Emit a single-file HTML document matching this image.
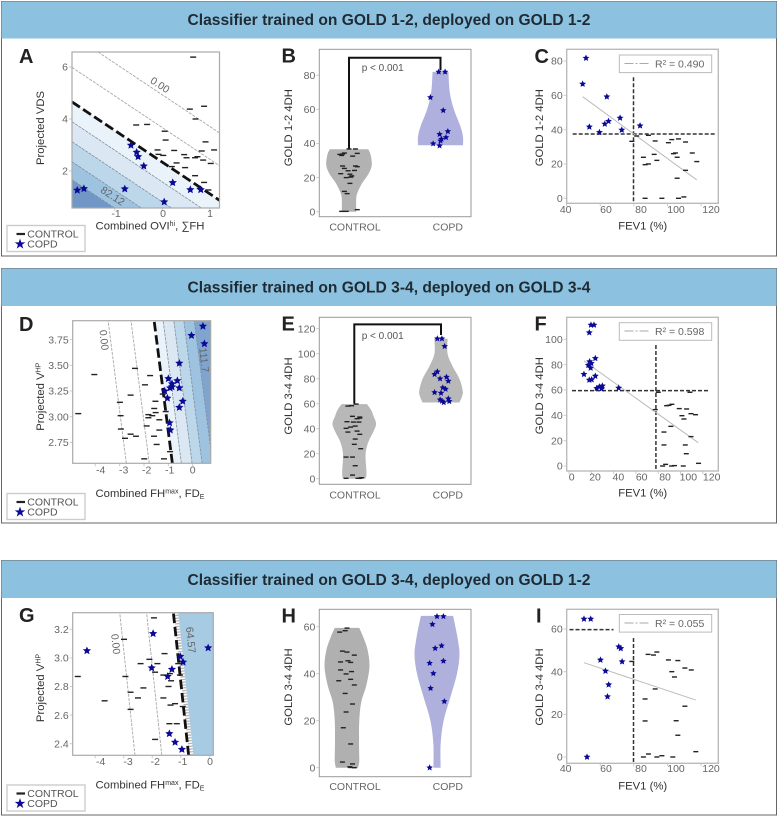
<!DOCTYPE html>
<html lang="en">
<head>
<meta charset="utf-8">
<title>Classifier panels</title>
<style>
html,body{margin:0;padding:0;background:#fff;overflow:hidden;width:779px;height:817px;}
svg{display:block;font-family:"Liberation Sans",sans-serif;}
.head{font-size:15.6px;font-weight:bold;fill:#1f2a33;text-anchor:middle;}
.letter{font-size:20px;font-weight:bold;fill:#222;}
.axt{font-size:11.3px;fill:#333;}
.tick{font-size:10.5px;fill:#666;}
.leg{font-size:10.5px;fill:#555;}
.ptxt{font-size:10px;fill:#555;}
.rtxt{font-size:10.5px;fill:#666;}
.clab{font-size:10.5px;fill:#666;text-anchor:middle;}
</style>
</head>
<body>
<svg id="figure" xmlns="http://www.w3.org/2000/svg" width="779" height="817" viewBox="0 0 779 817">
<rect x="0" y="0" width="779" height="817" fill="#fff"/>

<g>
<rect x="1.5" y="1.5" width="775" height="254.5" fill="none" stroke="#666" stroke-width="1"/>
<rect x="1.5" y="1.5" width="775" height="37" fill="#8cc2e0"/>
<text class="head" x="389" y="25">Classifier trained on GOLD 1-2, deployed on GOLD 1-2</text>
</g>
<g>
<rect x="1.5" y="268.5" width="775" height="254.5" fill="none" stroke="#666" stroke-width="1"/>
<rect x="1.5" y="268.5" width="775" height="37.5" fill="#8cc2e0"/>
<text class="head" x="389" y="292.7">Classifier trained on GOLD 3-4, deployed on GOLD 3-4</text>
</g>
<g>
<rect x="1.5" y="560.5" width="775" height="254.5" fill="none" stroke="#666" stroke-width="1"/>
<rect x="1.5" y="560.5" width="775" height="37.5" fill="#8cc2e0"/>
<text class="head" x="389" y="585">Classifier trained on GOLD 3-4, deployed on GOLD 1-2</text>
</g>

<g id="plot-a"></g>
<rect x="72" y="52" width="147.5" height="156" fill="none" stroke="#aaa" stroke-width="1.2"/>
<g id="plot-b"></g>
<rect x="319.3" y="49.3" width="151.7" height="167.4" fill="none" stroke="#999" stroke-width="1"/>
<g id="plot-c"></g>
<rect x="566.7" y="49.3" width="151.6" height="154" fill="none" stroke="#bbb" stroke-width="1.4"/>

<g id="plot-d"></g>
<rect x="72.7" y="320.7" width="138" height="142.6" fill="none" stroke="#aaa" stroke-width="1.2"/>
<g id="plot-e"></g>
<rect x="319.3" y="317.3" width="151.7" height="167" fill="none" stroke="#999" stroke-width="1"/>
<g id="plot-f"></g>
<rect x="566.7" y="317.3" width="151.6" height="153.7" fill="none" stroke="#bbb" stroke-width="1.4"/>

<g id="plot-g"></g>
<rect x="72.7" y="612.7" width="140.6" height="142.6" fill="none" stroke="#aaa" stroke-width="1.2"/>
<g id="plot-h"></g>
<rect x="319.3" y="609.3" width="151.7" height="167.4" fill="none" stroke="#999" stroke-width="1"/>
<g id="plot-i"></g>
<rect x="566.7" y="609.3" width="151.6" height="154" fill="none" stroke="#bbb" stroke-width="1.4"/>

<text class="letter" x="19" y="63">A</text>
<text class="letter" x="281.5" y="62.7">B</text>
<text class="letter" x="534.5" y="63">C</text>
<text class="letter" x="19" y="331">D</text>
<text class="letter" x="281.5" y="330.7">E</text>
<text class="letter" x="534.5" y="330.7">F</text>
<text class="letter" x="19" y="622">G</text>
<text class="letter" x="281.5" y="622.7">H</text>
<text class="letter" x="536" y="622.7">I</text>

<text class="axt" x="150" y="229.3" text-anchor="middle">Combined OVI<tspan font-size="7" dy="-3.5">hi</tspan><tspan dy="3.5">, ∑FH</tspan></text>
<text class="axt" transform="translate(44,128) rotate(-90)" text-anchor="middle">Projected VDS</text>
<text class="axt" transform="translate(292,127.7) rotate(-90)" text-anchor="middle">GOLD 1-2 4DH</text>
<text class="axt" transform="translate(543,127.7) rotate(-90)" text-anchor="middle">GOLD 1-2 4DH</text>
<text class="axt" x="642.7" y="229.3" text-anchor="middle">FEV1 (%)</text>

<text class="axt" x="150" y="497" text-anchor="middle">Combined FH<tspan font-size="7" dy="-3.5">max</tspan><tspan dy="3.5">, FD</tspan><tspan font-size="7" dy="2">E</tspan></text>
<text class="axt" transform="translate(44,396.7) rotate(-90)" text-anchor="middle">Projected V<tspan font-size="7" dy="-3.5">HP</tspan></text>
<text class="axt" transform="translate(292,396) rotate(-90)" text-anchor="middle">GOLD 3-4 4DH</text>
<text class="axt" transform="translate(543,395.7) rotate(-90)" text-anchor="middle">GOLD 3-4 4DH</text>
<text class="axt" x="642.7" y="496.7" text-anchor="middle">FEV1 (%)</text>

<text class="axt" x="150" y="788.7" text-anchor="middle">Combined FH<tspan font-size="7" dy="-3.5">max</tspan><tspan dy="3.5">, FD</tspan><tspan font-size="7" dy="2">E</tspan></text>
<text class="axt" transform="translate(44,688) rotate(-90)" text-anchor="middle">Projected V<tspan font-size="7" dy="-3.5">HP</tspan></text>
<text class="axt" transform="translate(292,687) rotate(-90)" text-anchor="middle">GOLD 3-4 4DH</text>
<text class="axt" transform="translate(543,687) rotate(-90)" text-anchor="middle">GOLD 3-4 4DH</text>
<text class="axt" x="642.7" y="789.3" text-anchor="middle">FEV1 (%)</text>

<text class="ptxt" x="361.7" y="71">p &lt; 0.001</text>
<text class="ptxt" x="361.7" y="339">p &lt; 0.001</text>

<g>
<rect x="7" y="225.5" width="78" height="26" fill="#fff" stroke="#ccc" stroke-width="1.4"/>
<rect x="16.5" y="232.9" width="8.5" height="2.2" fill="#222"/>
<polygon points="20,238.6 21.3,242.4 25.3,242.4 22.1,244.8 23.3,248.6 20,246.3 16.7,248.6 17.9,244.8 14.7,242.4 18.7,242.4" fill="#0a0a96"/>
<text class="leg" x="27.3" y="237.7">CONTROL</text>
<text class="leg" x="27.3" y="247.5">COPD</text>
</g>
<g>
<rect x="7" y="493.5" width="78" height="26" fill="#fff" stroke="#ccc" stroke-width="1.4"/>
<rect x="16.5" y="500.9" width="8.5" height="2.2" fill="#222"/>
<polygon points="20,506.6 21.3,510.4 25.3,510.4 22.1,512.8 23.3,516.6 20,514.3 16.7,516.6 17.9,512.8 14.7,510.4 18.7,510.4" fill="#0a0a96"/>
<text class="leg" x="27.3" y="505.7">CONTROL</text>
<text class="leg" x="27.3" y="515.5">COPD</text>
</g>
<g>
<rect x="7" y="785" width="78" height="26" fill="#fff" stroke="#ccc" stroke-width="1.4"/>
<rect x="16.5" y="792.4" width="8.5" height="2.2" fill="#222"/>
<polygon points="20,798.1 21.3,801.9 25.3,801.9 22.1,804.3 23.3,808.1 20,805.8 16.7,808.1 17.9,804.3 14.7,801.9 18.7,801.9" fill="#0a0a96"/>
<text class="leg" x="27.3" y="797.2">CONTROL</text>
<text class="leg" x="27.3" y="807">COPD</text>
</g>

<g>
<rect x="619.3" y="55" width="92.4" height="17.6" fill="#fff" stroke="#bbb" stroke-width="1"/>
<line x1="624.5" y1="63.5" x2="648.5" y2="63.5" stroke="#aaa" stroke-width="1" stroke-dasharray="9 2 2 2"/>
<text class="rtxt" x="655" y="67.5">R² = 0.490</text>
</g>
<g>
<rect x="619.3" y="322.7" width="92.4" height="17.6" fill="#fff" stroke="#bbb" stroke-width="1"/>
<line x1="624.5" y1="331" x2="648.5" y2="331" stroke="#aaa" stroke-width="1" stroke-dasharray="9 2 2 2"/>
<text class="rtxt" x="655" y="335">R² = 0.598</text>
</g>
<g>
<rect x="619.3" y="614.5" width="92.4" height="17.6" fill="#fff" stroke="#bbb" stroke-width="1"/>
<line x1="624.5" y1="623" x2="648.5" y2="623" stroke="#aaa" stroke-width="1" stroke-dasharray="9 2 2 2"/>
<text class="rtxt" x="655" y="627">R² = 0.055</text>
</g>
</svg>

<script>
// ---------- Panel A data ----------
const aControlX = [0.65,0.58,0.88,0.70,-0.55,-0.32,0.05,0.07,0.91,-0.10,0.25,0.83,1.09,-0.08,0.02,0.46,0.51,0.69,0.74,0.86,1.02,0.30,0.20,0.48,0.69,0.88,0.79,0.97];
const aControlY = [6.38,4.38,4.49,4.00,3.77,3.79,3.53,3.19,3.12,2.81,2.79,2.77,2.81,2.64,2.60,2.63,2.51,2.51,2.55,2.42,2.29,2.31,2.17,2.13,1.82,1.56,1.33,1.27];
const aCopdX = [-1.79,-1.65,-0.79,-0.66,-0.54,-0.51,-0.39,0.22,0.04,0.59,0.81];
const aCopdY = [1.26,1.32,1.31,2.99,2.72,2.55,2.19,1.55,0.81,1.28,1.28];
const aOuterLevels = [4.93,3.67];
const aBoundaryLevel = [2.34];
const aBandLevels = [2.34,1.58,0.81,0.04,-0.65];
const aXTicks = [-1,0,1];
const aXTickLabels = ['-1','0','1'];
const aYTicks = [2,4,6];
const aYTickLabels = ['2','4','6'];

// ---------- Panel B data ----------
const bControlJitter = [0,0.07,-0.10,-0.07,-0.05,-0.08,0.09,0.04,-0.07,-0.05,0.07,0.09,-0.01,0.06,-0.09,0.01,0.03,-0.03,0.02,0.01,-0.05,-0.02,-0.08,-0.03,0.09];
const bControlValues = [36.8,36.8,33.6,33.8,34.4,33.0,34.2,32.6,26.8,25.4,26.8,26.4,24.0,24.2,22.3,22.0,21.0,20.0,20.3,16.6,11.9,10.6,0.2,0.2,1.2];
const bCopdJitter = [-0.02,0.05,-0.11,0.03,-0.01,0.08,0.06,0.01,0,-0.08,-0.01];
const bCopdValues = [82,82,67,59.4,45.4,47.1,43.6,42.6,41.6,39.9,38.7];
const bControlProfileValues = [36.6,33,27,22,17,12,8,0];
const bControlProfileDensity = [0.85,0.96,1,0.85,0.59,0.40,0.32,0.32];
const bCopdProfileValues = [82,70,60,50,44,39];
const bCopdProfileDensity = [0.35,0.41,0.59,0.88,0.99,0.99];
const bBracketLevels = [36.6,90.3,83];
const bYTicks = [0,20,40,60,80];
const bYTickLabels = ['0','20','40','60','80'];

// ---------- Panel C data ----------
const cControlFev = [81.7,88.7,78.8,100.6,102.6,106.6,110.8,85.7,92.1,92.7,103.6,104.8,105.8,114.8,117.5,86.7,88.7,93.7,110.8,105.8,86.7,96.7,106.6,109.8];
const cControlDh = [36.3,36.7,33.2,32.4,34.2,34.6,32.8,23.9,25.6,33.4,26,26.4,23.9,26.4,21.4,19.6,20,22.1,16.3,11.7,0,0,0,0.8];
const cCopdFev = [51.5,49.5,63.9,71.8,83.7,53.5,64.9,62.7,59.5,72.8];
const cCopdDh = [81.7,66.6,59.2,46.8,42.3,41.6,44.9,43.3,38.4,39.8];
const cRegressionFev = [49.5,117.5];
const cRegressionDh = [59.2,10.7];
const cThresholdDh = [37.5];
const cThresholdFev = [79.8];
const cXTicks = [40,60,80,100,120];
const cXTickLabels = ['40','60','80','100','120'];
const cYTicks = [0,20,40,60,80];
const cYTickLabels = ['0','20','40','60','80'];

// ---------- Panel D data ----------
const dControlX = [-4.70,-4.04,-2.37,-1.75,-1.96,-2.55,-2.99,-2.96,-2.95,-2.78,-2.55,-2.33,-1.53,-1.58,-1.52,-1.82,-1.66,-1.82,-1.89,-1.37,-1.11,-1.59,-1.37,-1.48,-1.99,-1.18,-0.93,-1.23];
const dControlY = [3.03,3.41,3.47,3.40,3.31,3.21,3.14,3.01,2.88,2.79,2.83,2.81,3.15,3.08,3.04,3.02,3.01,2.99,2.91,2.97,3.05,2.81,2.87,2.73,2.59,2.59,2.66,3.22];
const dCopdX = [0.42,-0.05,0.48,-0.55,-1.00,-0.63,-0.85,-0.93,-0.85,-0.55,-1.15,-1.04,-0.41,-0.55,-0.95,-0.92];
const dCopdY = [3.88,3.79,3.71,3.52,3.37,3.35,3.32,3.28,3.29,3.28,3.25,3.18,3.15,3.09,2.94,2.87];
const dOuterLevels = [-2.97,-2.03];
const dBoundaryLevel = [-1.08];
const dBandLevels = [-1.08,-0.71,-0.27,0.14,0.57];
const dXTicks = [-4,-3,-2,-1,0];
const dXTickLabels = ['-4','-3','-2','-1','0'];
const dYTicks = [2.75,3,3.25,3.5,3.75];
const dYTickLabels = ['2.75','3.00','3.25','3.50','3.75'];

// ---------- Panel E data ----------
const eControlJitter = [0.02,-0.07,-0.03,-0.02,0.06,0.06,0.03,-0.08,-0.01,0.05,0.01,-0.04,-0.09,-0.07,0.03,0.06,0.01,0,0.07,-0.09,-0.02,0.01,-0.02,-0.09,0.04,0.08,0.06];
const eControlValues = [59.7,58.1,58.4,49.9,49.3,48.5,48,45.6,45.3,45.3,42.1,41.3,40.3,37.3,38.1,35.5,31.7,27.5,24,17.3,17.3,10.4,2.9,0.3,0.3,0.8,0.3];
const eCopdJitter = [-0.04,0.01,0.04,-0.04,-0.07,0.06,-0.01,0.08,0.02,0.05,-0.07,0,-0.01,0.08,0.01,0.03,0.09];
const eCopdValues = [112,112,105.9,85.6,83.5,81.3,80,78.1,72.8,71.7,69,68.5,63.2,64,62.1,61,61.9];
const eControlProfileValues = [59.7,55,50,44,38,30,22,15,8,2,0];
const eControlProfileDensity = [0.56,0.74,0.85,0.96,0.85,0.63,0.51,0.50,0.53,0.53,0.47];
const eCopdProfileValues = [112,100,90,80,70,65,61];
const eCopdProfileDensity = [0.29,0.29,0.51,0.81,0.96,0.91,0.81];
const eBracketLevels = [60,123.5,115];
const eYTicks = [0,20,40,60,80,100,120];
const eYTickLabels = ['0','20','40','60','80','100','120'];

// ---------- Panel F data ----------
const fControlFev = [80,108.4,87.5,89.6,92.2,98.8,105.4,77.3,101.2,103,109.3,113.4,91.3,85.1,109.3,85.1,104.2,105.1,116.1,86.6,83.9,91.9,94.6,102.4];
const fControlDh = [58.2,58.2,47.6,47.9,48.7,45.3,45,44.5,39.7,37.1,41.3,40.5,31.3,26.8,23.2,16.6,16.6,9.7,2.1,1.3,0,0,0.3,0];
const fCopdFev = [19.7,22.4,18.2,23.6,18.5,20,17.3,19.4,13.4,18.2,20.3,23.6,24.8,27.2,29.9,29.3,44.5];
const fCopdDh = [111.3,111.3,105.3,85,82.4,81,79.5,77.4,72.4,67.9,68.2,71,61.3,62.6,63.2,61,61.6];
const fRegressionFev = [13.4,115.8];
const fRegressionDh = [82.9,18.4];
const fThresholdDh = [59.5];
const fThresholdFev = [77.9];
const fXTicks = [0,20,40,60,80,100,120];
const fXTickLabels = ['0','20','40','60','80','100','120'];
const fYTicks = [0,20,40,60,80,100];
const fYTickLabels = ['0','20','40','60','80','100'];

// ---------- Panel G data ----------
const gControlX = [-1.94,-2.99,-1.57,-2.10,-1.82,-2.41,-1.90,-4.61,-2.94,-1.61,-1.38,-1.03,-1.34,-2.31,-1.43,-2.76,-2.50,-1.61,-3.67,-1.36,-1.20,-0.93,-2.76,-1.40,-1.14,-1.90,-1.09];
const gControlY = [3.28,3.13,3.03,2.99,2.96,2.96,2.90,2.87,2.87,2.88,2.89,2.88,2.84,2.79,2.80,2.76,2.72,2.72,2.70,2.67,2.68,2.66,2.64,2.54,2.54,2.43,2.96];
const gCopdX = [-4.29,-1.97,-0.04,-1.02,-0.92,-2.02,-1.31,-1.46,-1.40,-1.20,-0.96];
const gCopdY = [3.05,3.17,3.07,3.01,2.97,2.93,2.92,2.87,2.47,2.41,2.36];
const gOuterLevels = [-2.97,-2.03];
const gBoundaryLevel = [-1.09];
const gBandLevels = [-0.92];
const gHatchLevel = [-1.0];
const gXTicks = [-4,-3,-2,-1,0];
const gXTickLabels = ['-4','-3','-2','-1','0'];
const gYTicks = [2.4,2.6,2.8,3.0,3.2];
const gYTickLabels = ['2.4','2.6','2.8','3.0','3.2'];

// ---------- Panel H data ----------
const hControlJitter = [0,-0.02,-0.08,-0.05,0,0.08,0.01,0.04,-0.07,-0.07,0.05,-0.01,0.04,-0.09,0.08,-0.02,0.06,-0.01,-0.04,0.04,-0.05,0.06,0.03,0.04,0.08];
const hControlValues = [59.4,58.3,57.7,49.6,49.2,47.9,45.5,44.8,45,41.6,40.9,39.9,37.6,37,35.2,31.6,27.1,23.7,17,10.1,2.4,1.6,0.4,0.1,0];
const hCopdJitter = [0,0.07,-0.05,0.05,-0.02,0.07,-0.08,-0.04,-0.07,0.08,-0.08];
const hCopdValues = [64.4,64.4,61,51.9,50.8,45.4,44.5,40.1,33.8,28.2,0];
const hControlProfileValues = [59.5,55,50,43,35,28,20,10,3,0];
const hControlProfileDensity = [0.54,0.74,0.91,0.99,0.85,0.63,0.54,0.53,0.54,0.49];
const hCopdProfileValues = [64.6,55,48,40,30,20,10,0];
const hCopdProfileDensity = [0.71,0.91,0.99,0.88,0.59,0.29,0.16,0.16];
const hYTicks = [0,20,40,60];
const hYTickLabels = ['0','20','40','60'];

// ---------- Panel I data ----------
const iControlFev = [88.5,91.7,93.7,100.6,106.2,78.8,102.6,104.2,110.4,114.2,92.7,86.7,110.4,86.7,105.2,106.2,116.9,88.7,85.7,93.7,96.7,103.2];
const iControlDh = [48.1,47.8,49.2,45.5,45.2,44.8,40,37.5,41.7,40.8,31.9,27.2,23.8,16.9,17,10.2,2.5,1.4,0,0,0.6,0];
const iCopdFev = [50.3,54.3,71,72.2,73,60.1,63.1,65,64.3,52.1];
const iCopdDh = [64.7,64.7,51.7,50.9,44.7,45.5,40.3,33.9,28.3,0];
const iRegressionFev = [50.3,116.9];
const iRegressionDh = [44.2,26.7];
const iThresholdDh = [59.7];
const iThresholdFev = [79.8];
const iXTicks = [40,60,80,100,120];
const iXTickLabels = ['40','60','80','100','120'];
const iYTicks = [0,20,40,60];
const iYTickLabels = ['0','20','40','60'];

const categoryLabels = ['CONTROL','COPD'];

// ---------- Helpers ----------
const NS = 'http://www.w3.org/2000/svg';
function mk(tag, parent, props) {
  const e = document.createElementNS(NS, tag);
  for (const k in props) e.setAttribute(k, props[k]);
  parent.appendChild(e);
  return e;
}
function linear(d0, d1, r0, r1) {
  return v => r0 + (v - d0) * (r1 - r0) / (d1 - d0);
}
function starPoints(cx, cy, r) {
  const pts = [];
  for (let i = 0; i < 10; i++) {
    const rad = i % 2 ? r * 0.47 : r;
    const a = -Math.PI / 2 + i * Math.PI / 5;
    pts.push((cx + rad * Math.cos(a)).toFixed(2) + ',' + (cy + rad * Math.sin(a)).toFixed(2));
  }
  return pts.join(' ');
}
function drawStar(g, cx, cy, r) {
  const s = mk('polygon', g, {points: starPoints(cx, cy, r), fill: '#0a0a96'});
  
  
}
function drawDash(g, cx, cy, w) {
  const d = mk('rect', g, {x: cx - w / 2, y: cy - 0.7, width: w, height: 1.4, fill: '#222'});
  
  
}
function drawXTick(g, px, labelPx, label, frameBottom, baseline) {
  const t = mk('line', g, {x1: px, x2: px, y1: frameBottom, y2: frameBottom + 3, stroke: '#ccc', 'stroke-width': 1});
  
  
  const l = mk('text', g, {x: labelPx, y: baseline, 'text-anchor': 'middle', class: 'tick'});
  l.textContent = label;
  
  
}
function drawYTick(g, py, label, frameLeft) {
  const t = mk('line', g, {x1: frameLeft - 3, x2: frameLeft, y1: py, y2: py, stroke: '#ccc', 'stroke-width': 1});
  
  
  const l = mk('text', g, {x: frameLeft - 4, y: py + 3.7, 'text-anchor': 'end', class: 'tick'});
  l.textContent = label;
  
  
}
function drawContourLabel(g, text, px, py, rot, halo) {
  const l = mk('text', g, {class: 'clab', transform: 'translate(' + px + ',' + py + ') rotate(' + rot + ')', y: 3.5});
  if (halo) {
    l.setAttribute('stroke', '#fff');
    l.setAttribute('stroke-width', '3');
    l.setAttribute('paint-order', 'stroke');
  }
  l.textContent = text;
  
  
}
// Clip a pixel-space polygon to the plot rectangle so nothing extends outside the panel.
function clipToRect(pts, r) {
  const edges = [
    [p => p[0] >= r.x0, (a, b) => { const t = (r.x0 - a[0]) / (b[0] - a[0]); return [r.x0, a[1] + t * (b[1] - a[1])]; }],
    [p => p[0] <= r.x1, (a, b) => { const t = (r.x1 - a[0]) / (b[0] - a[0]); return [r.x1, a[1] + t * (b[1] - a[1])]; }],
    [p => p[1] >= r.y0, (a, b) => { const t = (r.y0 - a[1]) / (b[1] - a[1]); return [a[0] + t * (b[0] - a[0]), r.y0]; }],
    [p => p[1] <= r.y1, (a, b) => { const t = (r.y1 - a[1]) / (b[1] - a[1]); return [a[0] + t * (b[0] - a[0]), r.y1]; }]
  ];
  let out = pts;
  edges.forEach(edge => {
    const input = out;
    out = [];
    input.forEach((cur, i) => {
      const prev = input[(i + input.length - 1) % input.length];
      if (edge[0](cur)) {
        if (!edge[0](prev)) out.push(edge[1](prev, cur));
        out.push(cur);
      } else if (edge[0](prev)) {
        out.push(edge[1](prev, cur));
      }
    });
  });
  return out;
}
function clipSegment(a, b, r) {
  let t0 = 0, t1 = 1;
  const dx = b[0] - a[0], dy = b[1] - a[1];
  const checks = [[-dx, a[0] - r.x0], [dx, r.x1 - a[0]], [-dy, a[1] - r.y0], [dy, r.y1 - a[1]]];
  for (const c of checks) {
    if (c[0] === 0) { if (c[1] < 0) return null; continue; }
    const t = c[1] / c[0];
    if (c[0] < 0) t0 = Math.max(t0, t); else t1 = Math.min(t1, t);
  }
  if (t0 > t1) return null;
  return [[a[0] + t0 * dx, a[1] + t0 * dy], [a[0] + t1 * dx, a[1] + t1 * dy]];
}

// Decision plot. "lineAt(level, t)" maps a contour level and a position along the line to data coordinates.
function drawDecision(cfg) {
  const root = document.getElementById(cfg.id);
  const inner = mk('g', root, {});
  
  
  const toPx = p => [cfg.x(p[0]), cfg.y(p[1])];
  const ends = cfg.tRange;
  cfg.bands.forEach((lev, i) => {
    const next = i + 1 < cfg.bands.length ? cfg.bands[i + 1] : cfg.farLevel;
    const pts = [cfg.lineAt(lev, ends[0]), cfg.lineAt(lev, ends[1]), cfg.lineAt(next, ends[1]), cfg.lineAt(next, ends[0])].map(toPx);
    const clipped = clipToRect(pts, cfg.rect);
    const b = mk('polygon', inner, {points: clipped.map(p => p[0].toFixed(2) + ',' + p[1].toFixed(2)).join(' '), fill: cfg.bandColors[i]});
    
    
  });
  const drawLine = (lev, stroke, width, dash) => {
    const seg = clipSegment(toPx(cfg.lineAt(lev, ends[0])), toPx(cfg.lineAt(lev, ends[1])), cfg.rect);
    if (!seg) return;
    const l = mk('line', inner, {x1: seg[0][0], y1: seg[0][1], x2: seg[1][0], y2: seg[1][1], stroke: stroke, 'stroke-width': width, 'stroke-dasharray': dash});
    
    
  };
  cfg.outer.forEach(lev => drawLine(lev, '#a8a8a8', 0.9, '3 1.2'));
  cfg.bands.forEach((lev, i) => { if (i > 0) drawLine(lev, '#7f8f9c', 0.8, '3 1'); });
  if (cfg.hatch) cfg.hatch.forEach(lev => drawLine(lev, '#b5b5b5', 4.5, '1.3 1.5'));
  cfg.labels.forEach(c => drawContourLabel(inner, c[0], c[1], c[2], c[3], c[4]));
  cfg.boundary.forEach(lev => drawLine(lev, '#111', 2.8, '9.5 3.8'));
  cfg.controlX.forEach((v, i) => drawDash(root, cfg.x(v), cfg.y(cfg.controlY[i]), 6));
  cfg.copdX.forEach((v, i) => drawStar(root, cfg.x(v), cfg.y(cfg.copdY[i]), 4.3));
  cfg.xTicks.forEach((v, i) => drawXTick(root, cfg.x(v), cfg.xLabel(v), cfg.xTickLabels[i], cfg.frameBottom, cfg.xBase));
  cfg.yTicks.forEach((v, i) => drawYTick(root, cfg.y(v), cfg.yTickLabels[i], cfg.frameLeft));
}

// Smooth Catmull-Rom path through a list of pixel points.
function smoothPath(pts, start) {
  let d = start ? 'M' + pts[0][0].toFixed(2) + ' ' + pts[0][1].toFixed(2) : 'L' + pts[0][0].toFixed(2) + ' ' + pts[0][1].toFixed(2);
  for (let i = 0; i < pts.length - 1; i++) {
    const p0 = pts[Math.max(i - 1, 0)], p1 = pts[i], p2 = pts[i + 1], p3 = pts[Math.min(i + 2, pts.length - 1)];
    const c1 = [p1[0] + (p2[0] - p0[0]) / 6, p1[1] + (p2[1] - p0[1]) / 6];
    const c2 = [p2[0] - (p3[0] - p1[0]) / 6, p2[1] - (p3[1] - p1[1]) / 6];
    d += ' C' + c1[0].toFixed(2) + ' ' + c1[1].toFixed(2) + ' ' + c2[0].toFixed(2) + ' ' + c2[1].toFixed(2) + ' ' + p2[0].toFixed(2) + ' ' + p2[1].toFixed(2);
  }
  return d;
}
function drawViolinShape(g, center, values, density, y, scale, fill) {
  const left = values.map((v, i) => [center - density[i] * scale, y(v)]);
  const right = values.map((v, i) => [center + density[i] * scale, y(v)]).reverse();
  const p = mk('path', g, {d: smoothPath(left, true) + ' ' + smoothPath(right, false) + ' Z', fill: fill});
  
  
}
function drawViolin(cfg) {
  const root = document.getElementById(cfg.id);
  const jitterX = (cat, j) => cfg.centers[cat] + j * 91.7;
  drawViolinShape(root, cfg.centers[0], cfg.controlProfileValues, cfg.controlProfileDensity, cfg.y, 22.7, cfg.fills[0]);
  drawViolinShape(root, cfg.centers[1], cfg.copdProfileValues, cfg.copdProfileDensity, cfg.y, 22.7, cfg.fills[1]);
  if (cfg.bracket) {
    const b = mk('path', root, {
      d: 'M' + cfg.centers[0] + ' ' + cfg.y(cfg.bracket[0]) + ' V' + cfg.y(cfg.bracket[1]) + ' H' + cfg.centers[1] + ' V' + cfg.y(cfg.bracket[2]),
      fill: 'none', stroke: '#111', 'stroke-width': 2
    });
    
    
  }
  cfg.controlValues.forEach((v, i) => drawDash(root, jitterX(0, cfg.controlJitter[i]), cfg.y(v), 5));
  cfg.copdValues.forEach((v, i) => drawStar(root, jitterX(1, cfg.copdJitter[i]), cfg.y(v), 3.4));
  cfg.yTicks.forEach((v, i) => drawYTick(root, cfg.y(v), cfg.yTickLabels[i], 319.3));
  categoryLabels.forEach((label, i) => {
    const l = mk('text', root, {x: i === 0 ? 355 : 447.8, y: cfg.catBase, 'text-anchor': 'middle', class: 'tick'});
    l.textContent = label;
    
    
  });
}
function drawScatter(cfg) {
  const root = document.getElementById(cfg.id);
  cfg.thresholdFev.forEach(v => {
    const l = mk('line', root, {x1: cfg.x(v), x2: cfg.x(v), y1: cfg.vTop, y2: cfg.vBottom, stroke: '#333', 'stroke-width': 1.5, 'stroke-dasharray': '4 2'});
    
    
  });
  cfg.thresholdDh.forEach(v => {
    const l = mk('line', root, {x1: cfg.hLeft, x2: cfg.hRight, y1: cfg.y(v), y2: cfg.y(v), stroke: '#333', 'stroke-width': 1.5, 'stroke-dasharray': '4 2'});
    
    
  });
  const r = mk('line', root, {x1: cfg.x(cfg.regFev[0]), y1: cfg.y(cfg.regDh[0]), x2: cfg.x(cfg.regFev[1]), y2: cfg.y(cfg.regDh[1]), stroke: '#bbb', 'stroke-width': 1});
  
  
  cfg.controlFev.forEach((v, i) => drawDash(root, cfg.x(v), cfg.y(cfg.controlDh[i]), 5));
  cfg.copdFev.forEach((v, i) => drawStar(root, cfg.x(v), cfg.y(cfg.copdDh[i]), 3.6));
  cfg.xTicks.forEach((v, i) => drawXTick(root, cfg.x(v), cfg.xLabel(v), cfg.xTickLabels[i], cfg.frameBottom, cfg.xBase));
  cfg.yTicks.forEach((v, i) => drawYTick(root, cfg.y(v), cfg.yTickLabels[i], 566.7));
}

// ---------- Axis functions ----------
const axAx = linear(0, 1, 162.3, 209.8), axAy = linear(2, 4, 171, 119);
const axDx = linear(-4, 0, 95.3, 192.7), axDy = linear(3, 3.25, 416.7, 391);
const axGx = linear(-4, 0, 95.2, 209.3), axGy = linear(2.4, 3.2, 743.7, 629.3);
const axBy = linear(0, 80, 211.7, 75.3);
const axEy = linear(0, 120, 478.7, 328.7);
const axHy = linear(0, 60, 767.7, 626.7);
const axCx = linear(40, 120, 566.7, 701), axCy = linear(0, 80, 198.3, 61);
const axFx = linear(0, 120, 569, 702.9), axFy = linear(0, 100, 466, 339.3);
const axIx = linear(40, 120, 566.7, 701), axIy = linear(0, 60, 757, 629);
const labelCx = v => v <= 40 ? 565.7 : linear(60, 120, 606, 711)(v);
const labelFx = linear(0, 120, 571.7, 711.7);

// ---------- Draw ----------
drawDecision({
  id: 'plot-a', rect: {x0: 72, y0: 52, x1: 219.5, y1: 208}, x: axAx, y: axAy,
  lineAt: (c, t) => [t, c - 1.218 * t], tRange: [-1.95, 1.25], farLevel: -30,
  bands: aBandLevels, bandColors: ['#ebf3fa', '#dbe8f4', '#bdd7ea', '#9dc3e0', '#7097c6'],
  outer: aOuterLevels, boundary: aBoundaryLevel,
  labels: [['0.00', 160, 85, 33, true], ['82.12', 112.7, 196, 33, false]],
  controlX: aControlX, controlY: aControlY, copdX: aCopdX, copdY: aCopdY,
  xTicks: aXTicks, xTickLabels: aXTickLabels, xLabel: linear(-1, 1, 116, 210),
  yTicks: aYTicks, yTickLabels: aYTickLabels,
  frameBottom: 208, frameLeft: 72, xBase: 216.8
});
drawDecision({
  id: 'plot-d', rect: {x0: 72.7, y0: 320.7, x1: 210.7, y1: 463.3}, x: axDx, y: axDy,
  lineAt: (c, t) => [c - 0.54 * (t - 3), t], tRange: [2.5, 4], farLevel: 30,
  bands: dBandLevels, bandColors: ['#ebf3fa', '#dbe8f4', '#bdd7ea', '#9dc3e0', '#7fa5cf'],
  outer: dOuterLevels, boundary: dBoundaryLevel,
  labels: [['0.00', 104, 340, 84, true], ['111.7', 204, 360, 84, false]],
  controlX: dControlX, controlY: dControlY, copdX: dCopdX, copdY: dCopdY,
  xTicks: dXTicks, xTickLabels: dXTickLabels, xLabel: linear(-4, 0, 100.7, 192.7),
  yTicks: dYTicks, yTickLabels: dYTickLabels,
  frameBottom: 463.3, frameLeft: 72.7, xBase: 473.5
});
drawDecision({
  id: 'plot-g', rect: {x0: 72.7, y0: 612.7, x1: 213.3, y1: 755.3}, x: axGx, y: axGy,
  lineAt: (c, t) => [c - 0.536 * (t - 3), t], tRange: [2.25, 3.4], farLevel: 30,
  bands: gBandLevels, bandColors: ['#a6cbe3'],
  outer: gOuterLevels, boundary: gBoundaryLevel, hatch: gHatchLevel,
  labels: [['0.00', 115.7, 644, 84, true], ['64.57', 190.7, 640, 84, false]],
  controlX: gControlX, controlY: gControlY, copdX: gCopdX, copdY: gCopdY,
  xTicks: gXTicks, xTickLabels: gXTickLabels, xLabel: linear(-4, 0, 100.7, 210),
  yTicks: gYTicks, yTickLabels: gYTickLabels,
  frameBottom: 755.3, frameLeft: 72.7, xBase: 764.8
});

drawViolin({
  id: 'plot-b', y: axBy, centers: [349, 440.5], fills: ['#b2b2b2', '#b0b0de'],
  controlProfileValues: bControlProfileValues, controlProfileDensity: bControlProfileDensity,
  copdProfileValues: bCopdProfileValues, copdProfileDensity: bCopdProfileDensity,
  controlJitter: bControlJitter, controlValues: bControlValues,
  copdJitter: bCopdJitter, copdValues: bCopdValues,
  bracket: bBracketLevels, yTicks: bYTicks, yTickLabels: bYTickLabels, catBase: 230.5
});
drawViolin({
  id: 'plot-e', y: axEy, centers: [354.3, 441], fills: ['#b8b8b8', '#b8b8b8'],
  controlProfileValues: eControlProfileValues, controlProfileDensity: eControlProfileDensity,
  copdProfileValues: eCopdProfileValues, copdProfileDensity: eCopdProfileDensity,
  controlJitter: eControlJitter, controlValues: eControlValues,
  copdJitter: eCopdJitter, copdValues: eCopdValues,
  bracket: eBracketLevels, yTicks: eYTicks, yTickLabels: eYTickLabels, catBase: 498.5
});
drawViolin({
  id: 'plot-h', y: axHy, centers: [347, 437], fills: ['#b0b0b0', '#b0b0dc'],
  controlProfileValues: hControlProfileValues, controlProfileDensity: hControlProfileDensity,
  copdProfileValues: hCopdProfileValues, copdProfileDensity: hCopdProfileDensity,
  controlJitter: hControlJitter, controlValues: hControlValues,
  copdJitter: hCopdJitter, copdValues: hCopdValues,
  bracket: null, yTicks: hYTicks, yTickLabels: hYTickLabels, catBase: 790
});

drawScatter({
  id: 'plot-c', x: axCx, y: axCy, xLabel: labelCx,
  controlFev: cControlFev, controlDh: cControlDh, copdFev: cCopdFev, copdDh: cCopdDh,
  regFev: cRegressionFev, regDh: cRegressionDh, thresholdFev: cThresholdFev, thresholdDh: cThresholdDh,
  vTop: 77.3, vBottom: 203.3, hLeft: 572.7, hRight: 716,
  xTicks: cXTicks, xTickLabels: cXTickLabels, yTicks: cYTicks, yTickLabels: cYTickLabels,
  frameBottom: 203.3, xBase: 213
});
drawScatter({
  id: 'plot-f', x: axFx, y: axFy, xLabel: labelFx,
  controlFev: fControlFev, controlDh: fControlDh, copdFev: fCopdFev, copdDh: fCopdDh,
  regFev: fRegressionFev, regDh: fRegressionDh, thresholdFev: fThresholdFev, thresholdDh: fThresholdDh,
  vTop: 345, vBottom: 471, hLeft: 572, hRight: 710,
  xTicks: fXTicks, xTickLabels: fXTickLabels, yTicks: fYTicks, yTickLabels: fYTickLabels,
  frameBottom: 471, xBase: 480.5
});
drawScatter({
  id: 'plot-i', x: axIx, y: axIy, xLabel: labelCx,
  controlFev: iControlFev, controlDh: iControlDh, copdFev: iCopdFev, copdDh: iCopdDh,
  regFev: iRegressionFev, regDh: iRegressionDh, thresholdFev: iThresholdFev, thresholdDh: iThresholdDh,
  vTop: 638, vBottom: 763.3, hLeft: 569.5, hRight: 613.5,
  xTicks: iXTicks, xTickLabels: iXTickLabels, yTicks: iYTicks, yTickLabels: iYTickLabels,
  frameBottom: 763.3, xBase: 772
});
</script>
</body>
</html>
